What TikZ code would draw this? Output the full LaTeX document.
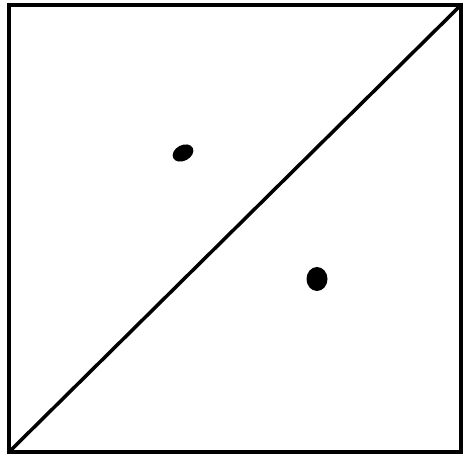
\documentclass[tikz,border=0pt]{standalone}
\begin{document}
\begin{tikzpicture}[x=1pt,y=1pt,line width=3.5pt,
  dot/.style={fill=black,draw=none}]
\useasboundingbox (0,0) rectangle (467,456);
\coordinate (bl) at (9,4);
\coordinate (tr) at (461,451);
\draw[line join=miter] (bl) rectangle (tr);
\draw (bl) -- (tr);
\fill[dot,rotate around={28:(183,303)}] (183,303) ellipse (11pt and 7.8pt);
\fill[dot] (317,177) ellipse (10.5pt and 12pt);
\end{tikzpicture}
\end{document}
